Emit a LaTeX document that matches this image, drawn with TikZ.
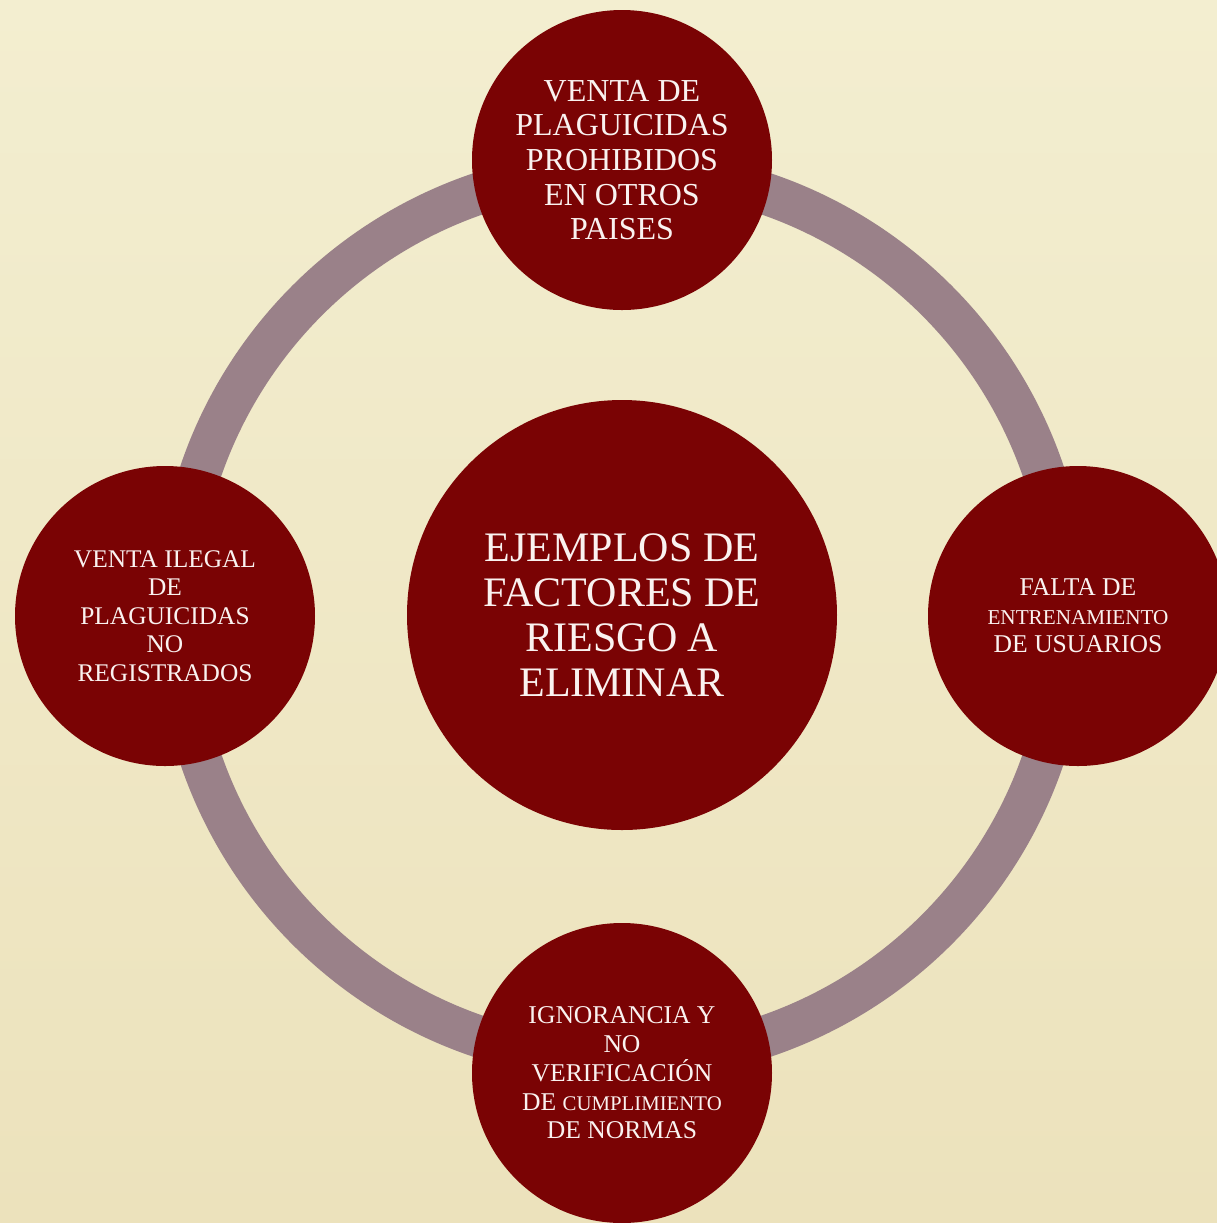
\documentclass[tikz,border=0pt]{standalone}
\usepackage{fontspec}
\setmainfont{Liberation Serif}
\usetikzlibrary{backgrounds}
\definecolor{bgtop}{RGB}{243,238,208}
\definecolor{bgbot}{RGB}{236,226,188}
\definecolor{ringcol}{RGB}{154,129,137}
\definecolor{bubble}{RGB}{122,3,4}
\definecolor{txt}{RGB}{250,242,240}
\tikzset{
  bubblebase/.style={circle, fill=bubble, text=txt, align=center, inner sep=0pt},
  small/.style={bubblebase, minimum size=150pt},
  big/.style={bubblebase, minimum size=215pt},
  ringline/.style={draw=ringcol, line width=21pt}
}
\begin{document}
\begin{tikzpicture}[x=0.5pt,y=-0.5pt]
\useasboundingbox (0,0) rectangle (1217,1223);
\clip (0,0) rectangle (1217,1223);
\node[big, font=\fontsize{21}{22.5}\selectfont] (c) at (622,615) {EJEMPLOS DE\\FACTORES DE\\RIESGO A\\ELIMINAR};
\node[small, font=\fontsize{16}{17.3}\selectfont] (t) at (622,160) {VENTA DE\\PLAGUICIDAS\\PROHIBIDOS\\EN OTROS\\PAISES};
\node[small, font=\fontsize{12.7}{14.3}\selectfont] (l) at (165,616) {VENTA ILEGAL\\DE\\PLAGUICIDAS\\NO\\REGISTRADOS};
\node[small, font=\fontsize{12.8}{14.2}\selectfont] (r) at (1078,616) {FALTA DE\\{\fontsize{10.6}{14.2}\selectfont ENTRENAMIENTO}\\DE USUARIOS};
\node[small, font=\fontsize{12.8}{14.4}\selectfont] (b) at (622,1073) {IGNORANCIA Y\\NO\\VERIFICACIÓN\\DE {\fontsize{10.4}{14.4}\selectfont CUMPLIMIENTO}\\DE NORMAS};
\begin{scope}[on background layer]
  \shade[top color=bgtop, bottom color=bgbot] (0,0) rectangle (1217,1223);
  \draw[ringline] (c.center) circle[radius=222.5pt];
\end{scope}
\end{tikzpicture}
\end{document}
